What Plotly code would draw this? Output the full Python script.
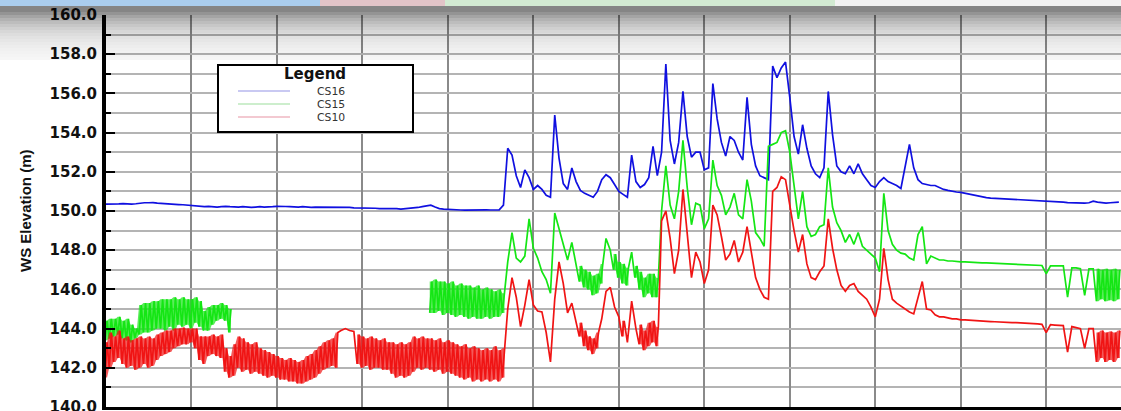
import plotly.graph_objects as go

# ---------------- data ----------------
# regular time steps; an entry is a value, a [min, max] pair for a noisy step, or None (no data)
series_names = ["CS16", "CS15", "CS10"]
series_colors = ["#1010e0", "#14e614", "#f01414"]
band_colors = ["rgba(16,16,224,0.6)", "rgba(20,230,20,0.7)", "rgba(240,20,20,0.7)"]
legend_colors = ["#c9c9f2", "#cdeecd", "#f3c9d1"]
y_ticks = [140, 142, 144, 146, 148, 150, 152, 154, 156, 158, 160]

cs16 = [
    150.35, 150.35, 150.33, 150.36, 150.38, 150.36, 150.35, 150.37, 150.40, 150.42,
    150.42, 150.43, 150.40, 150.38, 150.36, 150.36, 150.35, 150.33, 150.32, 150.30,
    150.25, 150.23, 150.22, 150.22, 150.24, 150.22, 150.20, 150.22, 150.24, 150.22,
    150.20, 150.20, 150.22, 150.20, 150.18, 150.20, 150.22, 150.20, 150.20, 150.22,
    150.24, 150.25, 150.23, 150.22, 150.20, 150.20, 150.22, 150.20, 150.18, 150.20,
    150.20, 150.18, 150.20, 150.20, 150.18, 150.18, 150.20, 150.18, 150.16, 150.16,
    150.15, 150.16, 150.14, 150.14, 150.12, 150.12, 150.14, 150.12, 150.12, 150.10,
    150.12, 150.12, 150.15, 150.18, 150.22, 150.26, 150.30, 150.20, 150.12, 150.10,
    150.08, 150.06, 150.06, 150.05, 150.04, 150.05, 150.05, 150.04, 150.05, 150.06,
    150.05, 150.05, 150.06, 150.30, 153.20, 152.85, 151.80, 151.20, 152.10, 151.70,
    151.10, 151.30, 151.10, 150.80, 150.70, 154.90, 152.70, 151.40, 151.10, 152.20,
    151.50, 151.05, 150.90, 150.80, 150.70, 151.00, 151.60, 151.85, 151.70, 151.35,
    151.00, 150.85, 150.70, 152.85, 151.50, 151.20, 151.35, 151.70, 153.30, 151.80,
    153.00, 157.50, 153.60, 152.40, 153.50, 156.10, 153.80, 152.75, 153.00, 153.00,
    152.10, 152.20, 156.50, 154.70, 153.50, 152.80, 153.80, 153.60, 153.00, 152.60,
    155.80, 153.40, 152.30, 151.80, 151.70, 151.60, 157.40, 156.80, 157.30, 157.60,
    155.80, 153.80, 152.90, 154.40, 153.20, 152.30, 151.90, 151.70, 152.20, 156.10,
    153.90, 152.30, 152.00, 151.90, 152.30, 151.90, 152.40, 151.90, 151.60, 151.30,
    151.20, 151.50, 151.70, 151.50, 151.40, 151.30, 151.15, 152.30, 153.40, 152.20,
    151.60, 151.40, 151.35, 151.30, 151.30, 151.20, 151.10, 151.05, 151.00, 150.97,
    150.95, 150.90, 150.85, 150.80, 150.75, 150.70, 150.68, 150.66, 150.65, 150.63,
    150.62, 150.60, 150.60, 150.58, 150.57, 150.56, 150.55, 150.53, 150.52, 150.50,
    150.50, 150.48, 150.47, 150.46, 150.45, 150.43, 150.42, 150.41, 150.40, 150.40,
    150.42, 150.50, 150.45, 150.42, 150.40, 150.42, 150.44, 150.45,
]

cs15 = [
    [143.4, 144.4], [143.5, 144.5], [143.6, 144.5], [143.7, 144.6], [143.5, 144.4],
    [143.4, 144.5], [143.3, 144.2], [143.5, 144.0], [143.7, 145.2], [143.8, 145.3],
    [143.8, 145.3], [143.9, 145.4], [144.0, 145.4], [144.0, 145.5], [143.9, 145.5],
    [144.1, 145.5], [143.9, 145.6], [144.2, 145.5], [144.1, 145.6], [144.2, 145.5],
    [144.0, 145.5], [144.3, 145.6], [144.1, 145.4], [143.9, 144.9], [143.9, 145.1],
    [144.2, 145.2], [144.4, 145.2], [144.5, 145.3], [144.4, 145.2], [143.8, 145.0],
] + [None] * 46 + [
    [144.8, 146.4], [144.8, 146.5], [144.9, 146.4], [144.7, 146.4], [144.8, 146.3],
    [144.7, 146.4], [144.6, 146.2], [144.7, 146.3], [144.6, 146.2], [144.5, 146.2],
    [144.6, 146.1], [144.5, 146.2], [144.5, 146.0], [144.6, 146.1], [144.5, 146.0],
    [144.6, 145.9], [144.6, 146.0], [144.8, 145.8], 147.4, 148.9,
    147.6, 147.4, 147.7, 149.6, 148.1, 147.6, 146.9, 146.5, 145.8, 149.9,
    149.1, 148.2, 147.5, 148.4, 147.2,
    [146.4, 147.2], [146.1, 147.0], [146.0, 146.9], [145.7, 146.7], [145.8, 146.8],
    [146.3, 147.3], 148.6, 148.0, [147.0, 147.8], [146.6, 147.4],
    [146.3, 147.3], [146.2, 147.1], 147.9, [146.6, 147.2], [146.0, 146.9],
    [145.6, 146.6], [145.8, 146.8], [145.6, 146.8], [145.6, 146.6], 150.0,
    152.3, 150.3, 149.6, 151.0, 153.6,
    151.2, 149.3, 150.4, 150.3, 149.1, 149.6, 152.6, 151.3, 150.8, 149.8,
    150.2, 150.9, 149.8, 149.6, 151.6, 150.5, 148.9, 148.6, 148.2, 153.3,
    153.4, 153.5, 154.0, 154.1, 153.0, 151.3, 149.6, 151.0, 149.2, 148.7,
    148.8, 149.2, 149.3, 152.2, 150.2, 149.4, 149.0, 148.4, 148.8, 148.3,
    148.9, 148.2, 148.0, 147.8, 147.6, 146.9, 150.9, 149.0, 148.3, 148.0,
    147.85, 147.8, 147.6, 147.5, 148.8, 149.2, 147.3, 147.7, 147.6, 147.5,
    147.5, 147.45, 147.45, 147.42, 147.4, 147.4, 147.38, 147.37, 147.36, 147.35,
    147.35, 147.34, 147.33, 147.32, 147.3, 147.3, 147.3, 147.28, 147.27, 147.26,
    147.25, 147.24, 147.23, 147.22, 146.8, 147.2, 147.2, 147.2, 147.2, 145.6,
    147.1, 147.1, 147.05, 145.7, 147.05, 147.05,
    [145.4, 147.05], [145.5, 147.0], [145.4, 147.05], [145.45, 147.0], [145.4, 147.05], [145.5, 147.0],
]

cs10 = [
    [141.5, 143.3], [142.0, 143.8], [142.3, 143.6], [142.5, 143.9], [142.2, 143.5],
    [142.0, 143.6], [142.1, 143.4], [141.9, 143.5], [142.0, 143.6], [142.2, 143.5],
    [142.0, 143.6], [142.1, 143.5], [142.4, 143.7], [142.6, 143.8], [142.7, 143.9],
    [142.8, 143.9], [143.0, 144.0], [143.1, 144.0], [143.2, 144.05], [143.2, 144.0],
    [143.3, 144.0], [143.0, 144.0], [142.4, 143.6], [142.2, 143.6], [142.6, 143.6],
    [142.7, 143.7], [142.6, 143.6], [142.5, 143.7], [141.8, 143.0], [141.5, 142.6],
    [141.6, 143.2], [142.0, 143.6], [141.8, 143.5], [141.9, 143.3], [141.7, 143.2],
    [141.8, 143.3], [141.7, 143.0], [141.6, 142.9], [141.5, 142.8], [141.6, 142.7],
    [141.5, 142.6], [141.4, 142.5], [141.4, 142.4], [141.3, 142.5], [141.3, 142.4],
    [141.2, 142.3], [141.2, 142.4], [141.3, 142.6], [141.4, 142.7], [141.5, 142.9],
    [141.7, 143.1], [141.9, 143.3], [142.0, 143.4], [142.1, 143.5], [142.0, 143.8],
    143.9, 144.0, 143.9, 143.85, [142.2, 143.7],
    [142.0, 143.6], [142.1, 143.5], [141.9, 143.6], [142.0, 143.5], [142.0, 143.4],
    [141.9, 143.5], [141.9, 143.3], [141.7, 143.3], [141.5, 143.2], [141.6, 143.3],
    [141.5, 143.2], [141.6, 143.3], [141.8, 143.6], [142.0, 143.5], [141.9, 143.6],
    [142.0, 143.5], [141.9, 143.5], [141.8, 143.4], [141.9, 143.5], [141.7, 143.3],
    [141.8, 143.4], [141.7, 143.3], [141.6, 143.2], [141.5, 143.1], [141.4, 143.2],
    [141.5, 143.0], [141.3, 143.1], [141.4, 143.0], [141.3, 142.9], [141.4, 143.0],
    [141.3, 142.9], [141.4, 143.1], [141.3, 142.9], [141.5, 143.0], 145.0,
    146.6, 145.6, 144.1, 145.2, 146.5,
    145.2, 144.9, 144.85, 143.8, 142.3, 145.5, 147.4, 146.3, 144.8, 145.3,
    144.4, [143.6, 144.3], [143.1, 143.9], [142.9, 143.6], [142.7, 143.5],
    [143.0, 143.8], 144.5, 145.9, 146.1, 145.1,
    144.6, [143.6, 144.4], 143.3, 145.4, 144.0,
    [143.2, 144.2], [142.9, 143.9], [143.1, 144.3], [143.3, 144.4], [143.1, 144.1],
    149.5, 150.0, 148.6, 146.8, 148.0, 151.1, 149.0, 146.6, 147.9, 147.4,
    146.3, 147.0, 150.3, 149.8, 148.7, 147.5, 147.8, 148.5, 147.4, 147.9,
    149.2, 147.8, 146.6, 146.0, 145.6, 145.5, 151.0, 151.2, 151.75, 151.6,
    150.2, 149.0, 147.9, 148.8, 147.3, 146.6, 146.5, 146.9, 147.2, 149.6,
    148.1, 147.0, 146.2, 145.9, 146.2, 146.3, 145.9, 145.7, 145.5, 145.1,
    144.6, 145.5, 148.1, 146.5, 145.5, 145.3, 145.15, 145.0, 144.85, 144.75,
    145.6, 146.4, 145.0, 144.95, 144.7, 144.6, 144.6, 144.55, 144.5, 144.5,
    144.45, 144.45, 144.43, 144.42, 144.4, 144.4, 144.38, 144.36, 144.35, 144.33,
    144.32, 144.3, 144.3, 144.3, 144.28, 144.27, 144.26, 144.25, 144.24, 144.22,
    143.8, 144.2, 144.18, 144.16, 144.15, 142.8, 144.1, 144.05, 144.0, 143.0,
    144.0, 144.0,
    [142.3, 143.8], [142.5, 143.9], [142.3, 143.8], [142.4, 143.85], [142.3, 143.8], [142.5, 143.9],
]


def expand(vals):
    """Time-step list -> x/y for the line; a [min, max] step is drawn min then max."""
    xs, ys = [], []
    for i, v in enumerate(vals):
        if v is None:
            xs.append(i)
            ys.append(None)
        elif isinstance(v, (list, tuple)):
            xs += [i - 0.25, i + 0.25]
            ys += [v[0], v[1]]
        else:
            xs.append(i)
            ys.append(v)
    return xs, ys


def noisy_bands(vals):
    """Closed min/max envelopes of each run of noisy ([min, max]) steps."""
    bands, run = [], []
    for i, v in enumerate(vals + [None]):
        if isinstance(v, (list, tuple)):
            run.append((i, v[0], v[1]))
        elif run:
            up_x = [p[0] + d for p in run for d in (-0.25, 0.25)]
            up_y = [p[2] for p in run for _ in (0, 1)]
            lo_x = up_x[::-1]
            lo_y = [p[1] for p in run for _ in (0, 1)][::-1]
            bands.append((up_x + lo_x, up_y + lo_y))
            run = []
    return bands


# ---------------- figure ----------------
W, H = 1121, 411
ML, MR, MT, MB = 106, 0, 15, 4
PW, PH = W - ML - MR, H - MT - MB


def px2x(px):  # window pixel -> paper x
    return (px - ML) / PW


def py2y(py):  # window pixel -> paper y
    return (H - MB - py) / PH


fig = go.Figure()
for name, vals, col, bcol in zip(series_names, [cs16, cs15, cs10], series_colors, band_colors):
    for bx, by in noisy_bands(vals):
        fig.add_trace(go.Scatter(x=bx, y=by, mode="lines", fill="toself", fillcolor=bcol,
                                 line=dict(width=0), showlegend=False, hoverinfo="skip"))
    xs, ys = expand(vals)
    fig.add_trace(go.Scatter(x=xs, y=ys, mode="lines", name=name,
                             line=dict(color=col, width=1.7),
                             connectgaps=False, showlegend=False,
                             hoverinfo="skip"))

shapes = []
# screenshot toolbar strip, dark edge and shadow gradient at the top
strip = [(0, 320, "#aacdee"), (320, 445, "#e2c4c8"), (445, 835, "#d2ead2"), (835, 1121, "#f2f2f2")]
for x0, x1, c in strip:
    shapes.append(dict(type="rect", xref="paper", yref="paper", x0=px2x(x0), x1=px2x(x1),
                       y0=py2y(6), y1=py2y(0), fillcolor=c, line=dict(width=0), layer="above"))
shapes.append(dict(type="rect", xref="paper", yref="paper", x0=px2x(0), x1=px2x(W),
                   y0=py2y(12), y1=py2y(6), fillcolor="rgba(0,0,0,0.48)", line=dict(width=0), layer="above"))
for k in range(16):
    y0 = 12 + 3 * k
    shapes.append(dict(type="rect", xref="paper", yref="paper", x0=px2x(0), x1=px2x(W),
                       y0=py2y(y0 + 3), y1=py2y(y0),
                       fillcolor="rgba(0,0,0,%.3f)" % (0.42 * 0.85 ** k),
                       line=dict(width=0), layer="above"))

# legend box
shapes.append(dict(type="rect", xref="paper", yref="paper", x0=px2x(218), x1=px2x(413),
                   y0=py2y(132), y1=py2y(65), fillcolor="white",
                   line=dict(color="black", width=2), layer="above"))
annotations = [dict(text="<b>Legend</b>", xref="paper", yref="paper", x=px2x(315), y=py2y(74),
                    xanchor="center", yanchor="middle", showarrow=False,
                    font=dict(family="DejaVu Sans", size=15, color="#111"))]
legend_rows = [91, 104, 117]
for name, lc, ry in zip(series_names, legend_colors, legend_rows):
    shapes.append(dict(type="line", xref="paper", yref="paper", x0=px2x(238), x1=px2x(290),
                       y0=py2y(ry), y1=py2y(ry), line=dict(color=lc, width=2), layer="above"))
    annotations.append(dict(text=name, xref="paper", yref="paper", x=px2x(316), y=py2y(ry),
                            xanchor="left", yanchor="middle", showarrow=False, borderpad=0,
                            font=dict(family="DejaVu Sans", size=10.8, color="#333")))

# y-axis title
annotations.append(dict(text="<b>WS Elevation (m)</b>", xref="paper", yref="paper",
                        x=px2x(25), y=py2y(211), xanchor="center", yanchor="middle",
                        textangle=-90, showarrow=False,
                        font=dict(family="Liberation Sans", size=15, color="#111")))

fig.update_layout(
    width=W, height=H,
    margin=dict(l=ML, r=MR, t=MT, b=MB, autoexpand=False),
    plot_bgcolor="white", paper_bgcolor="white",
    showlegend=False,
    shapes=shapes, annotations=annotations,
)
fig.update_xaxes(range=[0, 237.5], tick0=0, dtick=20, showgrid=True, automargin=False,
                 gridcolor="#8a8a8a", gridwidth=2, showticklabels=False, ticks="",
                 showline=True, linecolor="black", linewidth=3, zeroline=False)
fig.update_yaxes(range=[140, 160], tickvals=y_ticks, tickformat=".1f", automargin=False,
                 ticks="inside", ticklen=9, tickwidth=2, tickcolor="black",
                 showline=True, linecolor="black", linewidth=4,
                 showgrid=True, gridcolor="#b4b4b4", gridwidth=1.5, zeroline=False,
                 minor=dict(dtick=1, tick0=140, ticks="inside", ticklen=5, tickwidth=2,
                            tickcolor="black", showgrid=True, gridcolor="#b4b4b4", gridwidth=1.5),
                 tickfont=dict(family="DejaVu Sans", size=15, color="#111", weight="bold"),
                 ticklabelstandoff=2, ticklabeloverflow="allow")

# the page's default 8px body margin would shift the whole chart; remove it
fig.write_html("out.html", config={"displayModeBar": False},
               post_script="document.body.style.margin='0';")
